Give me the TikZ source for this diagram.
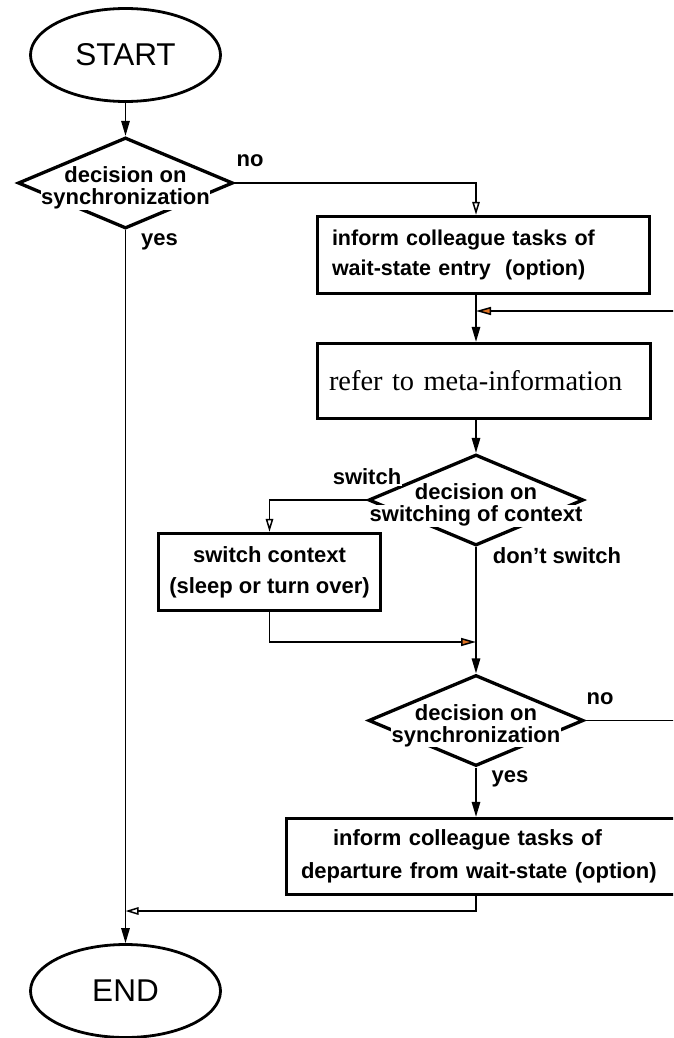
\documentclass[tikz,border=0pt]{standalone}
\usepackage{fontspec}
\setmainfont{Liberation Sans}
\newfontfamily\seriffont{Liberation Serif}
\usetikzlibrary{shapes.geometric,arrows.meta,calc}
\definecolor{tiporange}{RGB}{225,115,35}
% white strip behind one line of text, so that lines passing under it are cut
\newcommand\wbg[1]{{\setlength{\fboxsep}{0.5pt}\colorbox{white}{#1}}}

\begin{document}
\begin{tikzpicture}[x=1pt,y=-1pt,
  terminal/.style={ellipse, draw, line width=2.8pt, minimum width=190pt,
    minimum height=93pt, inner sep=0pt, font=\fontsize{31.5}{33}\selectfont},
  decision/.style={diamond, draw, line width=3.3pt, minimum width=215pt,
    minimum height=91pt, inner sep=0pt},
  dlabel/.style={align=center, inner sep=0pt, yshift=-5pt,
    font=\bfseries\fontsize{22}{22}\selectfont},
  process/.style={rectangle, draw, line width=3.4pt, inner ysep=0pt},
  elabel/.style={fill=white, inner sep=1pt,
    font=\bfseries\fontsize{22}{24}\selectfont},
  flow/.style={line width=1.5pt},
  arr/.style={flow, -{Triangle[length=15pt,width=8.5pt]}},
  oarr/.style={flow, -{Triangle[open,length=13pt,width=7.5pt]}},
  orarr/.style={flow, -{Triangle[length=15pt,width=8pt,fill=tiporange]}},
]
\useasboundingbox (0,0) rectangle (673,1038);
\fill[white] (0,0) rectangle (673,1038);
\clip (0,0) rectangle (673,1038);

% helper coordinates
\coordinate (spine) at (476,0);
\coordinate (rt) at (700,0);
\coordinate (m1) at (476,311);
\coordinate (m2) at (476,642);
\coordinate (m3) at (125.5,911);

% terminals
\node[terminal] (start) at (125.5,55) {START};
\node[terminal] (end) at (125.5,991) {END};

% decisions
\node[decision] (d1) at (125.5,183) {};
\node[decision] (d2) at (476,500) {};
\node[decision] (d3) at (476,720.5) {};

% process boxes
\node[process, minimum width=332pt, minimum height=77pt, text width=303pt,
  inner xsep=14.5pt, align=left, font=\bfseries\fontsize{21.5}{30}\selectfont]
  (b1) at (483.5,255) {inform colleague tasks of\\wait-state entry\ \ (option)};
\node[process, minimum width=333pt, minimum height=75pt, text width=310pt,
  inner xsep=11.5pt, align=left, font=\seriffont\fontsize{28.4}{30}\selectfont]
  (b2) at (484,381) {refer to meta-information};
\node[process, minimum width=222pt, minimum height=77pt, align=center,
  font=\bfseries\fontsize{22}{31}\selectfont]
  (b3) at (269.5,572) {switch context\\(sleep or turn over)};
\node[process, minimum width=403.5pt, minimum height=76pt, text width=374.5pt,
  inner xsep=14.5pt, align=left, font=\bfseries\fontsize{22}{33}\selectfont]
  (b4) at (488.25,856.5) {\hspace*{32pt}inform colleague tasks of\\departure from wait-state (option)};

% connectors
\draw[arr] (start.south) -- (d1.north);
\draw[oarr] (d1.east) -| (spine |- b1.north);
\draw[arr] (spine |- b1.south) -- (spine |- b2.north);
\draw[orarr] (d3.east) -- (d3.east -| rt) -- (rt |- m1) -- (m1);
\draw[arr] (spine |- b2.south) -- (d2.north);
\draw[oarr] (d2.west) -| (b3.north);
\draw[orarr] (b3.south) |- (m2);
\draw[arr] (d2.south) -- (d3.north);
\draw[arr] (d3.south) -- (spine |- b4.north);
\draw[oarr] (spine |- b4.south) |- (m3);
\draw[arr] (d1.south) -- (end.north);

% decision texts
\node[dlabel] (d1t) at (d1) {\wbg{decision on}\\\wbg{synchronization}};
\node[dlabel] (d2t) at (d2) {\wbg{decision on}\\\wbg{switching of context}};
\node[dlabel] (d3t) at (d3) {\wbg{decision on}\\\wbg{synchronization}};

% branch labels
\node[elabel] (no1) at (250,161) {no};
\node[elabel] (yes1) at (159.5,242) {yes};
\node[elabel] (sw) at (367,477) {switch};
\node[elabel] (nsw) at (557,556) {don’t switch};
\node[elabel] (no3) at (600,699) {no};
\node[elabel] (yes3) at (510,779) {yes};
\end{tikzpicture}
\end{document}
